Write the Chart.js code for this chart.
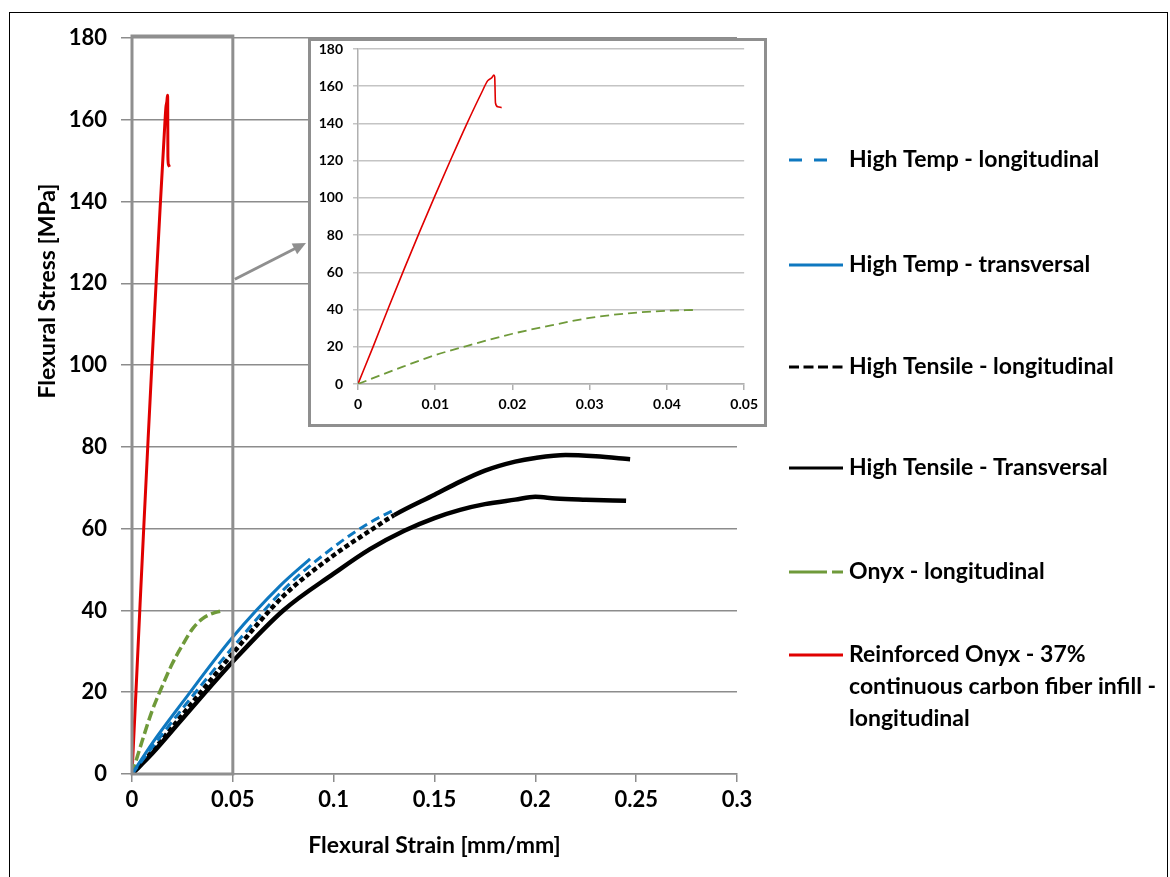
<!DOCTYPE html>
<html>
<head>
<meta charset="utf-8">
<title>Flexural stress-strain curves</title>
<script src="https://cdn.jsdelivr.net/npm/chart.js@4.4.1/dist/chart.umd.min.js"></script>
<style>
  html, body { margin: 0; padding: 0; background: #fff; }
  #wrap { position: relative; width: 1170px; height: 877px; overflow: hidden; }
  #main { position: absolute; left: 0; top: 0; }
  #insetBox {
    position: absolute; left: 308px; top: 38px; width: 459px; height: 389px;
    border: 3px solid #8f8f8f; box-sizing: border-box; background: #fff;
  }
  #inset { display: block; }
  #frame {
    position: absolute; left: 9px; top: 12px; width: 1159px; height: 900px;
    border: 1px solid #000; box-sizing: border-box; pointer-events: none;
  }
</style>
</head>
<body>
<div id="wrap">
  <canvas id="main" width="1170" height="877"></canvas>
  <div id="insetBox"><canvas id="inset" width="453" height="383"></canvas></div>
  <div id="frame"></div>
</div>
<script>
// [strain (mm/mm), stress (MPa)] pairs for each specimen
const highTempLong = [[0, 0], [0.01, 6.5], [0.025, 16], [0.05, 31], [0.075, 45], [0.1, 55.5], [0.118, 61.5], [0.1305, 64.7]];
const highTempTrans = [[0, 0], [0.01, 7.5], [0.025, 17.5], [0.05, 33.5], [0.0734, 46], [0.0883, 52.6]];
const highTensileLong = [[0, 0], [0.01, 5.5], [0.025, 14.5], [0.05, 29.5], [0.075, 43.5], [0.1, 53.5], [0.118, 59.5],
  [0.13, 63.3], [0.15, 68.3], [0.1627, 71.5], [0.175, 74.2], [0.19, 76.4], [0.2, 77.3], [0.215, 78], [0.23, 77.7], [0.247, 77]];
const highTensileTrans = [[0, 0], [0.01, 5], [0.025, 13.5], [0.05, 27.5], [0.075, 40], [0.1, 49], [0.118, 55], [0.135, 59.5],
  [0.15, 62.6], [0.1627, 64.6], [0.175, 66], [0.19, 67.1], [0.2, 67.8], [0.21, 67.4], [0.225, 67.1], [0.245, 66.8]];
const onyxLong = [[0, 0], [0.005, 8], [0.01, 15.5], [0.015, 21.5], [0.02, 27], [0.025, 31.5], [0.03, 35.5], [0.035, 38],
  [0.04, 39.3], [0.0437, 39.8]];
const reinforcedOnyx = [[0, 0], [0.002, 20.5], [0.004, 41.5], [0.006, 62], [0.008, 82], [0.01, 101.5], [0.012, 120.5],
  [0.014, 139], [0.016, 156.5], [0.0168, 163], [0.0173, 164.5], [0.0176, 166], [0.0177, 165], [0.0178, 151],
  [0.0181, 149], [0.0186, 148.5]];

const seriesLabels = [
  ['High Temp - longitudinal'],
  ['High Temp - transversal'],
  ['High Tensile - longitudinal'],
  ['High Tensile - Transversal'],
  ['Onyx - longitudinal'],
  ['Reinforced Onyx - 37%', 'continuous carbon fiber infill -', 'longitudinal']
];

const FONT = 'Lato, "Open Sans", sans-serif';
const GRID = '#8c8c8c';
const BLUE = '#0e78c0';
const GREEN = '#6f9a3a';
const RED = '#e00000';

const toXY = pts => pts.map(([x, y]) => ({ x, y }));
const fmt = v => String(Number(v.toFixed(3)));

// grey box around the region shown enlarged, plus the arrow pointing at it
const zoomBox = {
  id: 'zoomBox',
  afterDatasetsDraw(chart) {
    const { ctx, scales: { x, y } } = chart;
    const x0 = x.getPixelForValue(0), x1 = x.getPixelForValue(0.05);
    const yTop = y.getPixelForValue(180) - 2, yBot = y.getPixelForValue(0);
    ctx.save();
    ctx.strokeStyle = '#8f8f8f';
    ctx.lineWidth = 3;
    ctx.strokeRect(x0, yTop, x1 - x0, yBot - yTop);

    const sx = x1 + 2, sy = y.getPixelForValue(121);
    const ex = 306, ey = 243;
    const ang = Math.atan2(ey - sy, ex - sx);
    ctx.beginPath();
    ctx.moveTo(sx, sy);
    ctx.lineTo(ex - 10 * Math.cos(ang), ey - 10 * Math.sin(ang));
    ctx.stroke();
    ctx.fillStyle = '#8f8f8f';
    ctx.beginPath();
    ctx.moveTo(ex, ey);
    ctx.lineTo(ex - 13 * Math.cos(ang) + 6 * Math.sin(ang), ey - 13 * Math.sin(ang) - 6 * Math.cos(ang));
    ctx.lineTo(ex - 13 * Math.cos(ang) - 6 * Math.sin(ang), ey - 13 * Math.sin(ang) + 6 * Math.cos(ang));
    ctx.closePath();
    ctx.fill();
    ctx.restore();
  }
};

// rotated y title, set a bit above the middle of the axis
const yTitle = {
  id: 'yTitle',
  afterDraw(chart) {
    const ctx = chart.ctx;
    ctx.save();
    ctx.translate(48, 291);
    ctx.rotate(-Math.PI / 2);
    ctx.font = `bold 23px ${FONT}`;
    ctx.fillStyle = '#000';
    ctx.textAlign = 'center';
    ctx.textBaseline = 'middle';
    ctx.fillText('Flexural Stress [MPa]', 0, 0);
    ctx.restore();
  }
};

// legend to the right of the plot
const sideLegend = {
  id: 'sideLegend',
  afterDraw(chart) {
    const ctx = chart.ctx;
    const rows = [160, 265, 367, 468, 572, 655];
    const samples = [
      { dash: [13, 12], len: 40 },
      { dash: [], len: 54 },
      { dash: [10, 4.5], len: 54 },
      { dash: [], len: 54 },
      { dash: [38, 5], len: 54 },
      { dash: [], len: 54 }
    ];
    ctx.save();
    chart.data.datasets.forEach((ds, i) => {
      const yy = rows[i];
      ctx.strokeStyle = ds.borderColor;
      ctx.lineWidth = 3;
      ctx.setLineDash(samples[i].dash);
      ctx.beginPath();
      ctx.moveTo(789, yy);
      ctx.lineTo(789 + samples[i].len, yy);
      ctx.stroke();
      ctx.setLineDash([]);
      ctx.fillStyle = '#000';
      ctx.font = `bold 23px ${FONT}`;
      ctx.textBaseline = 'middle';
      seriesLabels[i].forEach((line, k) => ctx.fillText(line, 849, yy + k * 32));
    });
    ctx.restore();
  }
};

new Chart(document.getElementById('main'), {
  type: 'line',
  data: {
    datasets: [
      { label: seriesLabels[0].join(' '), data: toXY(highTempLong), borderColor: BLUE, borderWidth: 3, borderDash: [9, 5] },
      { label: seriesLabels[1].join(' '), data: toXY(highTempTrans), borderColor: BLUE, borderWidth: 3 },
      {
        label: seriesLabels[2].join(' '), data: toXY(highTensileLong), borderColor: '#000', borderWidth: 4.5, borderDash: [5, 3],
        // the noisy tail past the plateau reads as a solid band
        segment: { borderDash: c => (c.p0.parsed.x >= 0.13 ? [] : undefined) }
      },
      { label: seriesLabels[3].join(' '), data: toXY(highTensileTrans), borderColor: '#000', borderWidth: 4.5 },
      { label: seriesLabels[4].join(' '), data: toXY(onyxLong), borderColor: GREEN, borderWidth: 3.5, borderDash: [10, 4] },
      { label: seriesLabels[5].join(' '), data: toXY(reinforcedOnyx), borderColor: RED, borderWidth: 3 }
    ]
  },
  options: {
    responsive: false,
    animation: false,
    layout: { padding: { left: 0, right: 433, top: 38, bottom: 0 } },
    elements: { point: { radius: 0 }, line: { cubicInterpolationMode: 'monotone', fill: false } },
    plugins: { legend: { display: false }, tooltip: { enabled: false } },
    scales: {
      x: {
        type: 'linear', min: 0, max: 0.3,
        afterFit: s => { s.height = 103; },
        ticks: { stepSize: 0.05, padding: 5, color: '#000', font: { family: FONT, size: 22, weight: 'bold' }, callback: fmt, maxRotation: 0 },
        grid: { drawOnChartArea: false, tickLength: 8, color: GRID, lineWidth: 1.5 },
        border: { color: GRID, width: 1.5 },
        title: { display: true, text: 'Flexural Strain [mm/mm]', color: '#000', font: { family: FONT, size: 23, weight: 'bold' }, padding: { top: 0, bottom: 18 } }
      },
      y: {
        type: 'linear', min: 0, max: 180,
        afterFit: s => { s.width = 132; s.paddingTop = 0; s.paddingBottom = 0; },
        ticks: { stepSize: 20, padding: 14, color: '#000', font: { family: FONT, size: 22, weight: 'bold' } },
        grid: { tickLength: 11, color: GRID, lineWidth: 1.5 },
        border: { color: GRID, width: 1.5 }
      }
    }
  },
  plugins: [zoomBox, yTitle, sideLegend]
});

// enlarged view of the first 0.05 mm/mm
new Chart(document.getElementById('inset'), {
  type: 'line',
  data: {
    datasets: [
      { label: seriesLabels[4].join(' '), data: toXY(onyxLong), borderColor: GREEN, borderWidth: 1.8, borderDash: [9, 5] },
      { label: seriesLabels[5].join(' '), data: toXY(reinforcedOnyx), borderColor: RED, borderWidth: 1.6 }
    ]
  },
  options: {
    responsive: false,
    animation: false,
    layout: { padding: { left: 0, right: 13, top: 8, bottom: 0 } },
    elements: { point: { radius: 0 }, line: { cubicInterpolationMode: 'monotone', fill: false } },
    plugins: { legend: { display: false }, tooltip: { enabled: false } },
    scales: {
      x: {
        type: 'linear', min: 0, max: 0.05,
        afterFit: s => { s.height = 40; },
        ticks: { stepSize: 0.01, padding: 6, color: '#000', font: { family: FONT, size: 14, weight: 'bold' }, callback: fmt, maxRotation: 0 },
        grid: { drawOnChartArea: false, tickLength: 6, color: '#b0b0b0', lineWidth: 1.5 },
        border: { color: '#b0b0b0', width: 1.5 }
      },
      y: {
        type: 'linear', min: 0, max: 180,
        afterFit: s => { s.width = 47; s.paddingTop = 0; s.paddingBottom = 0; },
        ticks: { stepSize: 20, padding: 10, color: '#000', font: { family: FONT, size: 14, weight: 'bold' } },
        grid: { tickLength: 5, color: '#c4c4c4', lineWidth: 1.5 },
        border: { color: '#b0b0b0', width: 1.5 }
      }
    }
  }
});
</script>
</body>
</html>
